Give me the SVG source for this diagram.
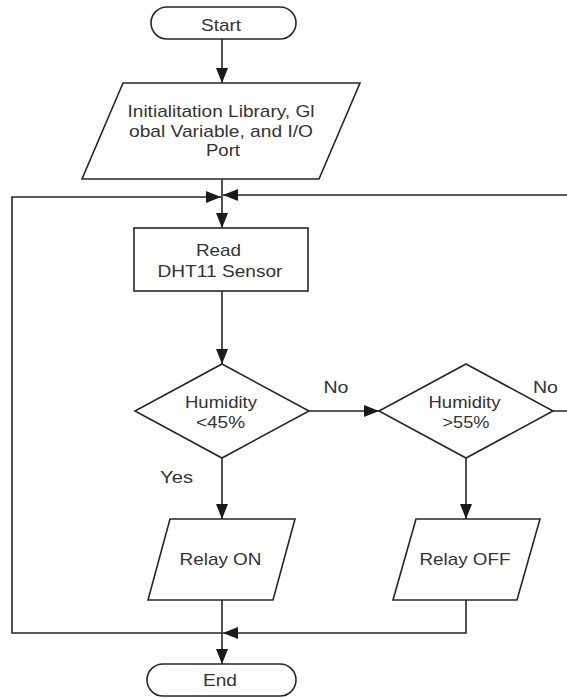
<svg xmlns="http://www.w3.org/2000/svg" width="567" height="698" viewBox="0 0 567 698">
  <style>
    .shape { fill: #ffffff; stroke: #262626; stroke-width: 1.6; }
    .conn { fill: none; stroke: #262626; stroke-width: 1.6; }
    text { font-family: "Liberation Sans", Arial, sans-serif; font-size: 17px; fill: #333333; text-anchor: middle; }
  </style>
  <defs>
    <marker id="arrow" markerUnits="userSpaceOnUse" markerWidth="16" markerHeight="12" refX="15" refY="6" orient="auto">
      <path d="M0,0 L15,6 L0,12 z" fill="#1a1a1a"/>
    </marker>
  </defs>

  <!-- connectors -->
  <g id="connectors">
    <path class="conn" d="M222,39 V83" marker-end="url(#arrow)"/>
    <path class="conn" d="M222,179 V228" marker-end="url(#arrow)"/>
    <path class="conn" d="M222,633 H12 V197 H221" marker-end="url(#arrow)"/>
    <path class="conn" d="M553,411 H575 V195 H223" marker-end="url(#arrow)"/>
    <path class="conn" d="M222,291 V364" marker-end="url(#arrow)"/>
    <path class="conn" d="M309,411 H379" marker-end="url(#arrow)"/>
    <path class="conn" d="M222,458 V519" marker-end="url(#arrow)"/>
    <path class="conn" d="M466,458 V519" marker-end="url(#arrow)"/>
    <path class="conn" d="M466,600 V633 H223" marker-end="url(#arrow)"/>
    <path class="conn" d="M222,600 V664" marker-end="url(#arrow)"/>
    <text x="336" y="392.5" textLength="25" lengthAdjust="spacingAndGlyphs">No</text>
    <text x="545.5" y="392.5" textLength="25" lengthAdjust="spacingAndGlyphs">No</text>
    <text x="176.5" y="483" textLength="33" lengthAdjust="spacingAndGlyphs">Yes</text>
  </g>

  <g id="start">
    <rect class="shape" x="151" y="7" width="145" height="32" rx="16" ry="16"/>
    <text x="221" y="30.5" textLength="40" lengthAdjust="spacingAndGlyphs">Start</text>
  </g>

  <g id="init">
    <polygon class="shape" points="123,83 360,83 319,179 82,179"/>
    <text x="221" y="116.5" textLength="187" lengthAdjust="spacingAndGlyphs">Initialitation Library, Gl</text>
    <text x="221" y="136.5" textLength="184" lengthAdjust="spacingAndGlyphs">obal Variable, and I/O</text>
    <text x="223" y="156" textLength="34" lengthAdjust="spacingAndGlyphs">Port</text>
  </g>

  <g id="read">
    <rect class="shape" x="134" y="228" width="174" height="63"/>
    <text x="218.5" y="256" textLength="45" lengthAdjust="spacingAndGlyphs">Read</text>
    <text x="220" y="276.5" textLength="125" lengthAdjust="spacingAndGlyphs">DHT11 Sensor</text>
  </g>

  <g id="humidity-low">
    <polygon class="shape" points="222,364 309,411 222,458 135,411"/>
    <text x="221" y="407.5" textLength="72" lengthAdjust="spacingAndGlyphs">Humidity</text>
    <text x="220.5" y="428" textLength="49" lengthAdjust="spacingAndGlyphs">&lt;45%</text>
  </g>

  <g id="humidity-high">
    <polygon class="shape" points="466,364 553,411 466,458 379,411"/>
    <text x="464.5" y="407.5" textLength="72" lengthAdjust="spacingAndGlyphs">Humidity</text>
    <text x="466" y="428" textLength="47" lengthAdjust="spacingAndGlyphs">&gt;55%</text>
  </g>

  <g id="relay-on">
    <polygon class="shape" points="170,519 295,519 273,600 148,600"/>
    <text x="220.5" y="565" textLength="82" lengthAdjust="spacingAndGlyphs">Relay ON</text>
  </g>

  <g id="relay-off">
    <polygon class="shape" points="416,519 540,519 517,600 393,600"/>
    <text x="465" y="565" textLength="91" lengthAdjust="spacingAndGlyphs">Relay OFF</text>
  </g>

  <g id="end">
    <rect class="shape" x="147" y="664" width="149" height="32" rx="16" ry="16"/>
    <text x="220" y="686" textLength="34" lengthAdjust="spacingAndGlyphs">End</text>
  </g>
</svg>
